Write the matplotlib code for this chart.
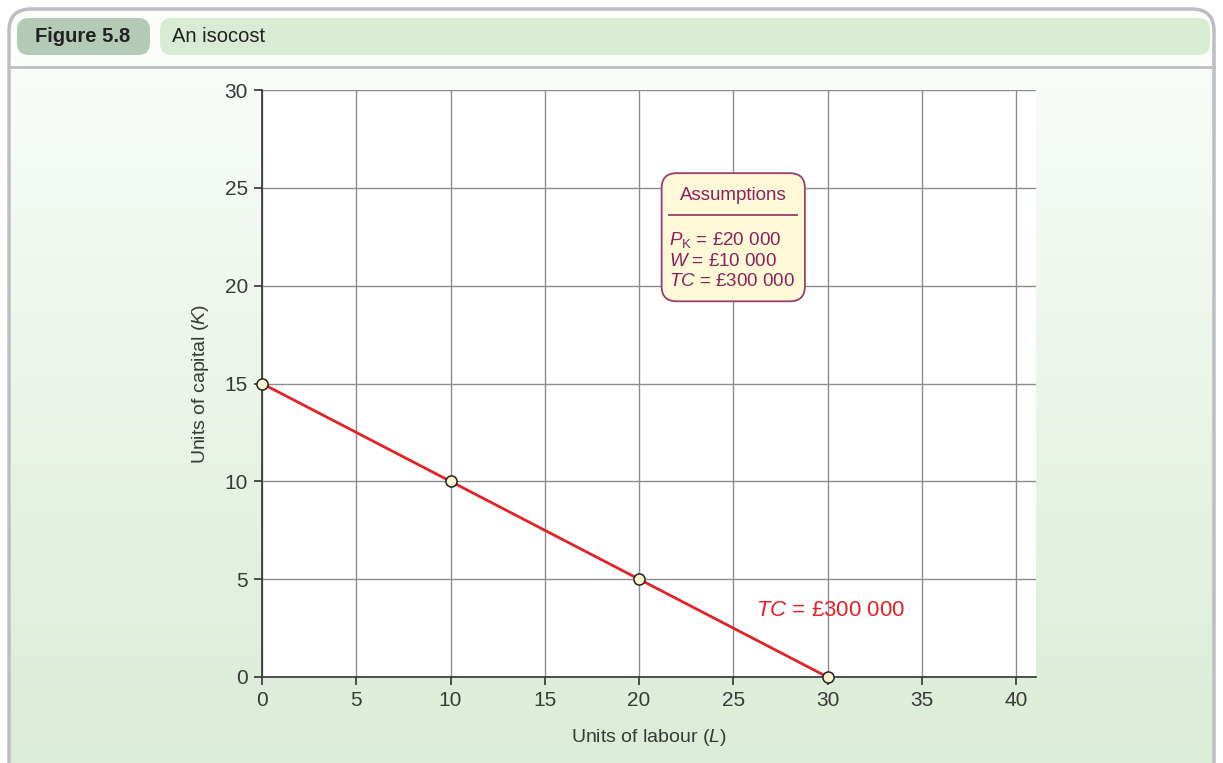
import numpy as np
import matplotlib
matplotlib.use("Agg")
import matplotlib.pyplot as plt
from matplotlib.patches import FancyBboxPatch

plt.rcParams['font.family'] = ['Liberation Sans', 'DejaVu Sans']
plt.rcParams['mathtext.fontset'] = 'custom'
plt.rcParams['mathtext.rm'] = 'Liberation Sans'
plt.rcParams['mathtext.it'] = 'Liberation Sans:italic'

# isocost points
labour = [0, 10, 20, 30]
capital = [15, 10, 5, 0]
x_ticks = [0, 5, 10, 15, 20, 25, 30, 35, 40]
y_ticks = [0, 5, 10, 15, 20, 25, 30]
fig_label = "Figure 5.8"
fig_title = "An isocost"
assumptions = ["$P_{\\mathrm{K}}$ = £20 000", "$W$ = £10 000", "$TC$ = £300 000"]
curve_label = "$TC$ = £300 000"

W, H = 1223, 763
fig = plt.figure(figsize=(W / 100, H / 100), dpi=100)

# background panel drawn in pixel coords
bg = fig.add_axes([0, 0, 1, 1], zorder=0)
bg.set_xlim(0, W)
bg.set_ylim(H, 0)
bg.axis("off")

grad = np.linspace(0, 1, 256).reshape(-1, 1)
top_c = np.array([0.975, 0.99, 0.975])
bot_c = np.array([0.86, 0.925, 0.845])
img = top_c + (bot_c - top_c) * grad[:, :, None]
frame = FancyBboxPatch((9, 9), W - 18, H + 20, boxstyle="round,pad=0,rounding_size=22",
                       fc="none", ec="#bdbdc2", lw=2.5)
bg.add_patch(frame)
im = bg.imshow(img, extent=(9, W - 9, H, 67), aspect="auto", zorder=0)
im.set_clip_path(frame)
bg.add_patch(FancyBboxPatch((9, 9), W - 18, 58, boxstyle="round,pad=0,rounding_size=22",
                            fc="#fbfdfb", ec="none", zorder=0.5))
bg.plot([9, W - 9], [67, 67], color="#bdbdc2", lw=2, zorder=1)
bg.add_patch(FancyBboxPatch((17, 18), 133, 37, boxstyle="round,pad=0,rounding_size=12",
                            fc="#b5cab6", ec="none", zorder=1))
bg.add_patch(FancyBboxPatch((160, 18), 1050, 37, boxstyle="round,pad=0,rounding_size=12",
                            fc="#d9ead5", ec="none", zorder=1))
bg.text(83, 37, fig_label, fontsize=14.5, fontweight="bold", color="#222222",
        ha="center", va="center", zorder=2)
bg.text(172, 37, fig_title, fontsize=14.5, color="#222222", ha="left", va="center", zorder=2)

# main chart
ax = fig.add_axes([262 / W, 1 - 677 / H, 774 / W, 587 / H], zorder=1)
ax.set_facecolor("white")
ax.set_xlim(0, 41.06)
ax.set_ylim(0, 30)
ax.set_xticks(x_ticks)
ax.set_yticks(y_ticks)
ax.grid(True, color="#8c8c8c", lw=1)
ax.set_axisbelow(True)
for s in ["top", "right"]:
    ax.spines[s].set_visible(False)
for s in ["left", "bottom"]:
    ax.spines[s].set_color("#333333")
    ax.spines[s].set_linewidth(1.2)
ax.tick_params(direction="out", length=6, width=1.2, color="#333333",
               labelsize=15, labelcolor="#3a3a3a", pad=4)
ax.set_xlabel("Units of labour ($L$)", fontsize=14, color="#3a3a3a", labelpad=12)
ax.set_ylabel("Units of capital ($K$)", fontsize=14, color="#3a3a3a", labelpad=10)

ax.plot(labour, capital, color="#e32228", lw=2, zorder=3, clip_on=False)
ax.plot(labour, capital, "o", ms=8, mfc="#fdf7cf", mec="#222222", mew=1.1,
        zorder=4, clip_on=False)
ax.text(26.2, 3.4, curve_label, fontsize=16, color="#e32228", ha="left", va="center")

# assumptions box
bx0, bx1 = 21.2, 28.8
by0, by1 = 19.2, 25.75
ax.add_patch(FancyBboxPatch((bx0, by0), bx1 - bx0, by1 - by0,
                            boxstyle="round,pad=0,rounding_size=0.8", mutation_aspect=0.96,
                            fc="#fdf8d6", ec="#9b3d72", lw=1.3, zorder=5))
purple = "#8c2160"
ax.text(25.0, 24.6, "Assumptions", fontsize=13.5, color=purple, ha="center", va="center", zorder=6)
ax.plot([21.6, 28.4], [23.6, 23.6], color="#9b3d72", lw=1.3, zorder=6)
for i, line in enumerate(assumptions):
    ax.text(21.6, 22.1 - i * 1.07, line, fontsize=13.5, color=purple,
            ha="left", va="baseline", zorder=6)

fig.savefig("out.png", dpi=100)
